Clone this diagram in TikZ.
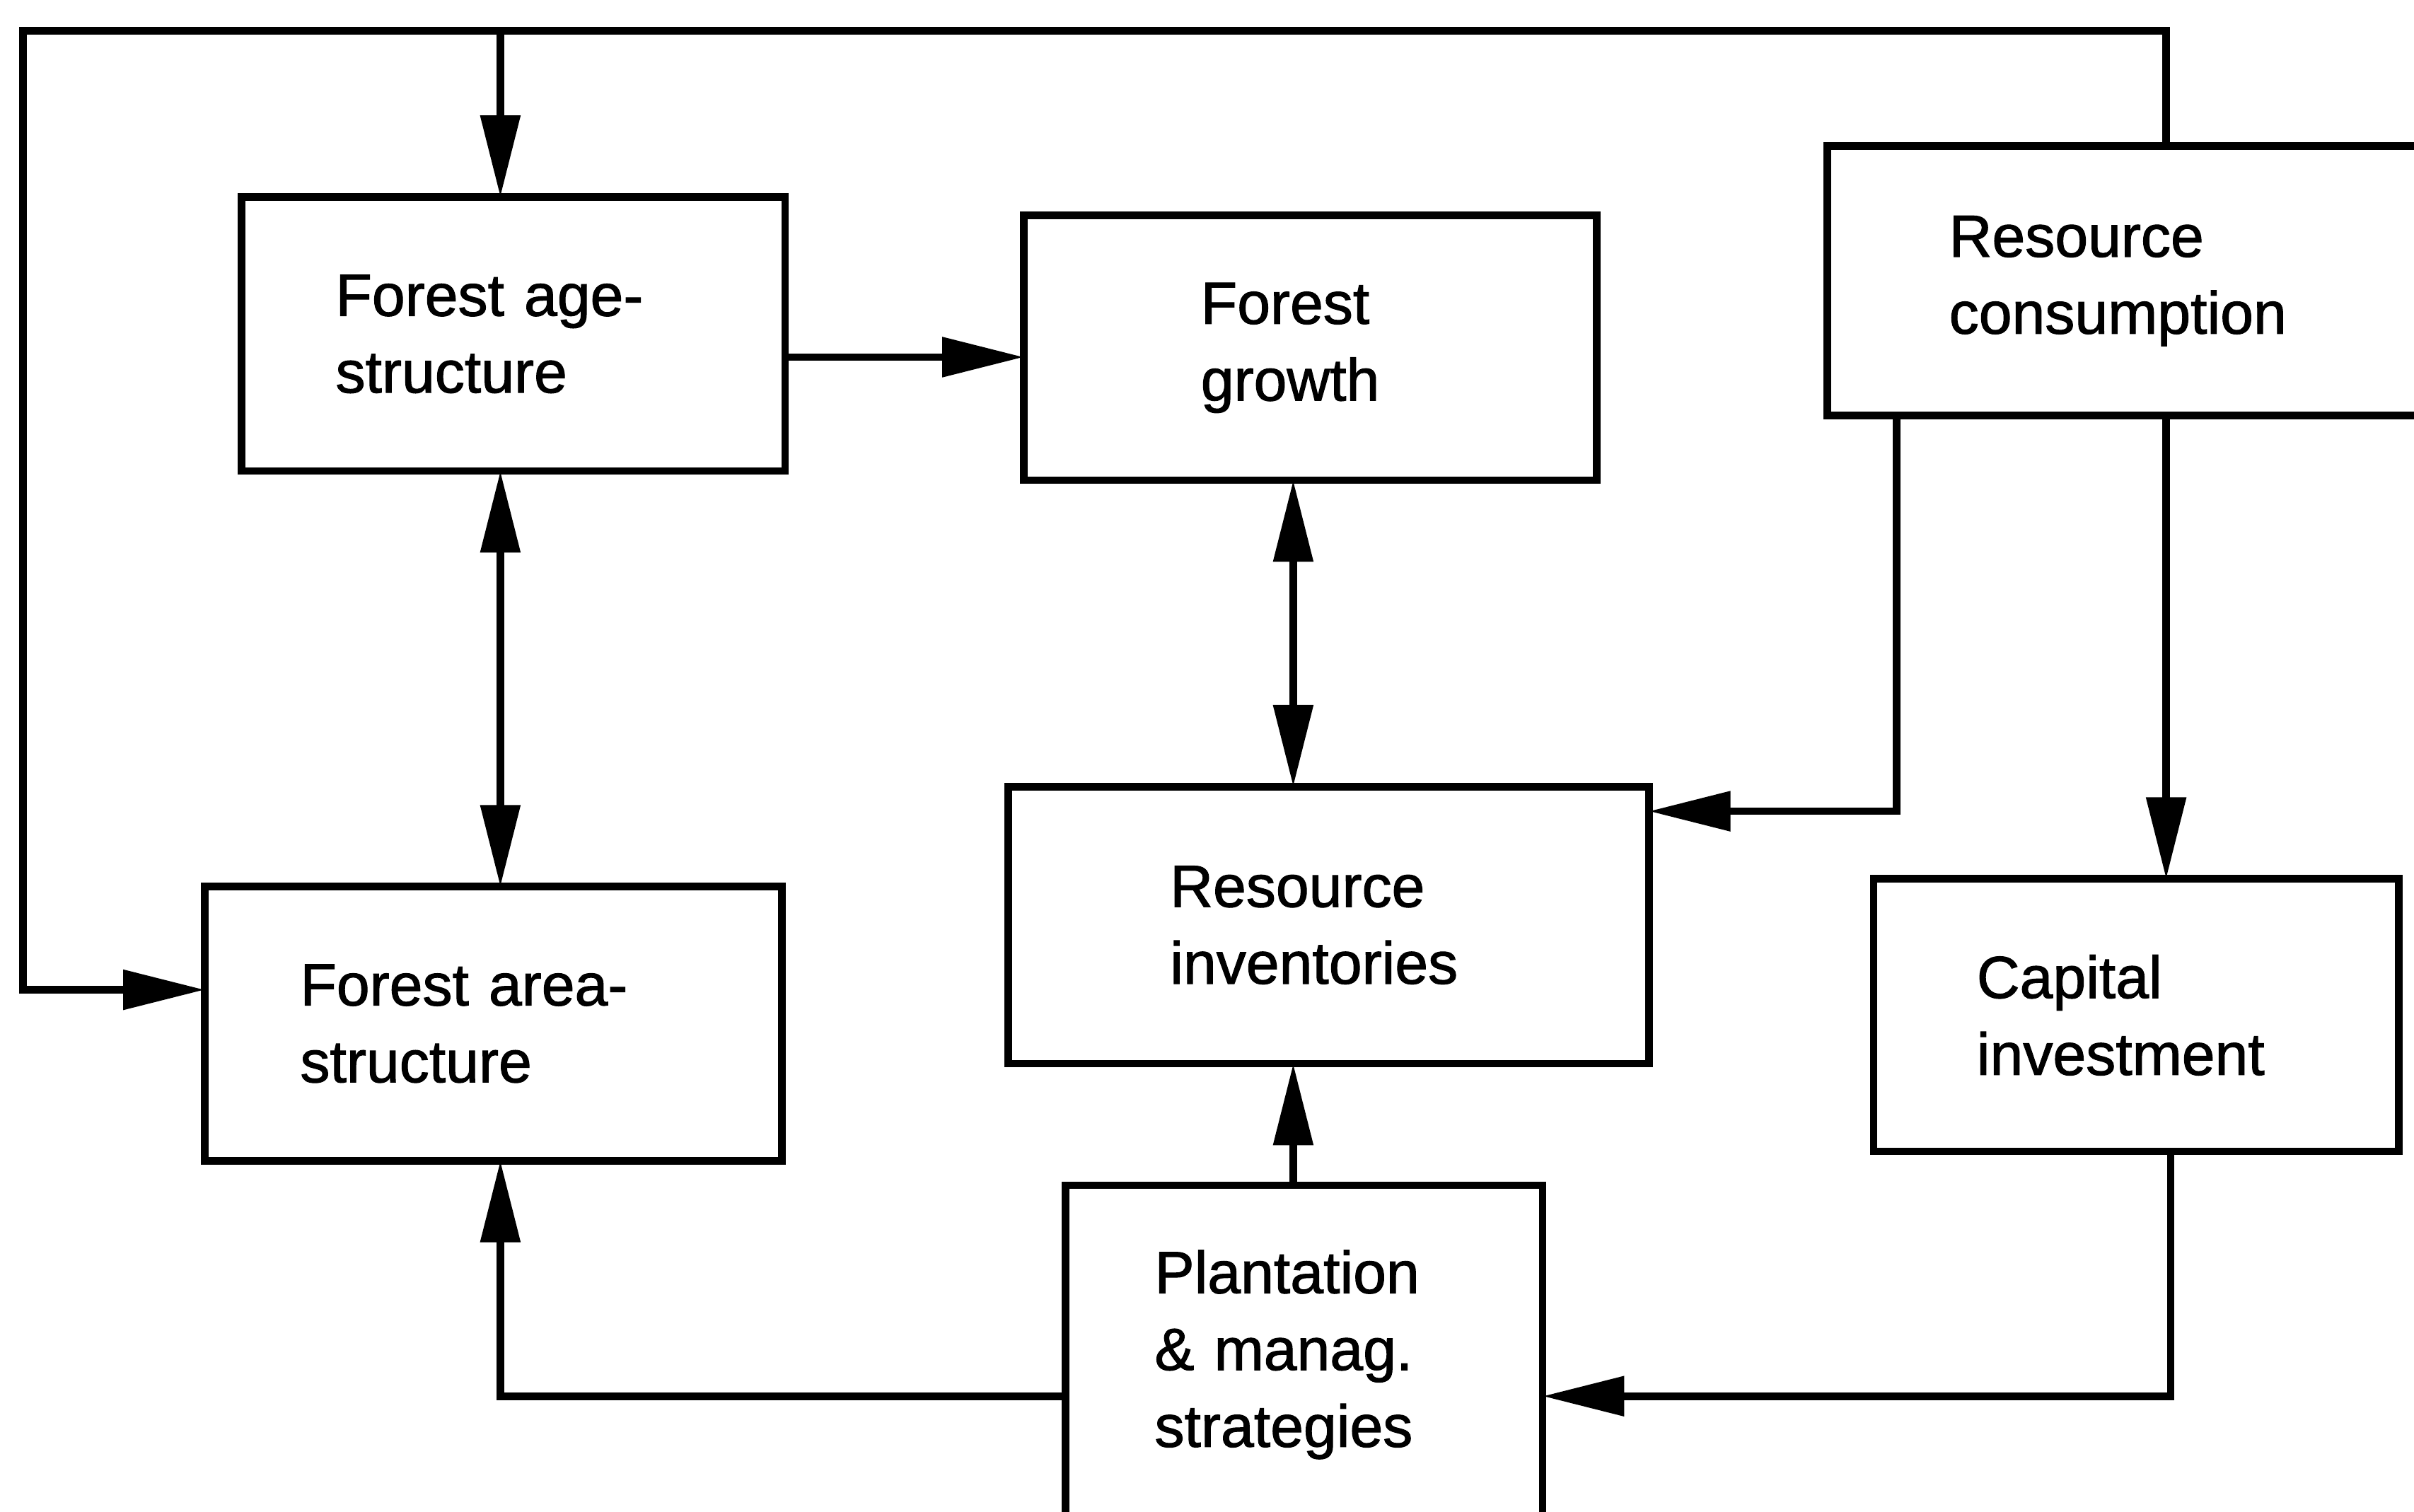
\documentclass[tikz,border=0pt]{standalone}
\usepackage{fontspec}
\newfontfamily\diagfont[FakeBold=1.3]{Liberation Sans}
\usetikzlibrary{arrows.meta}

\begin{document}
\begin{tikzpicture}[line width=1.4pt,
        box/.style={draw, outer sep=0pt, align=left, font={\diagfont\fontsize{11}{14.2}\selectfont}},
        arr/.style={-{Triangle[length=5.3mm,width=2.5mm]}},
        twoway/.style={{Triangle[length=5.3mm,width=2.5mm]}-{Triangle[length=5.3mm,width=2.5mm]}}]
                \useasboundingbox (0,0) rectangle (15.68,9.82);
                \node[box, minimum height=1.78cm, text width=2.31cm, inner xsep=0.61cm] (age) at (3.335,7.65) {Forest age-\\structure};
                \node[box, minimum height=1.72cm, text width=1.42cm, inner xsep=1.15cm] (growth) at (8.51,7.56) {Forest\\growth};
                \node[box, minimum height=1.75cm, text width=2.35cm, inner xsep=0.79cm] (cons) at (13.835,7.995) {Resource\\consumption};
                \node[box, minimum height=1.80cm, text width=2.06cm, inner xsep=1.05cm] (inv) at (8.63,3.81) {Resource\\inventories};
                \node[box, minimum height=1.78cm, text width=2.51cm, inner xsep=0.62cm] (area) at (3.205,3.17) {Forest area-\\structure};
                \node[box, minimum height=1.77cm, text width=2.07cm, inner xsep=0.67cm] (cap) at (13.875,3.225) {Capital\\investment};
                \node[box, minimum height=2.20cm, text width=1.94cm, inner xsep=0.58cm] (plan) at (8.47,1.02) {Plantation\\\& manag.\\strategies};
                % feedback loop over the top
                \coordinate (tl) at (0.15,9.62);
                \coordinate (tr) at (14.07,9.62);
                \coordinate (ta) at (3.25,9.62);
                \coordinate (gi) at (8.40,5.0);
                \coordinate (ci) at (12.32,4.55);
                \coordinate (cp) at (14.10,0.75);
                \draw[arr] (cons.north -| tr) -- (tr) -- (tl) |- ([yshift=2.2mm]area.west);
                \draw[arr] (ta) -- (ta |- age.north);
                \draw[arr] ([yshift=-1.5mm]age.east) -- ([yshift=-1.5mm]age.east -| growth.west);
                \draw[twoway] (ta |- age.south) -- (ta |- area.north);
                \draw[twoway] (gi |- growth.south) -- (gi |- inv.north);
                \draw[arr] (ci |- cons.south) -- (ci) -- (ci -| inv.east);
                \draw[arr] (tr |- cons.south) -- (tr |- cap.north);
                \draw[arr] (cp |- cap.south) -- (cp) -- (cp -| plan.east);
                \draw[arr] (gi |- plan.north) -- (gi |- inv.south);
                \draw[arr] (plan.west |- cp) -- (ta |- cp) -- (ta |- area.south);
                \end{tikzpicture}
\end{document}
